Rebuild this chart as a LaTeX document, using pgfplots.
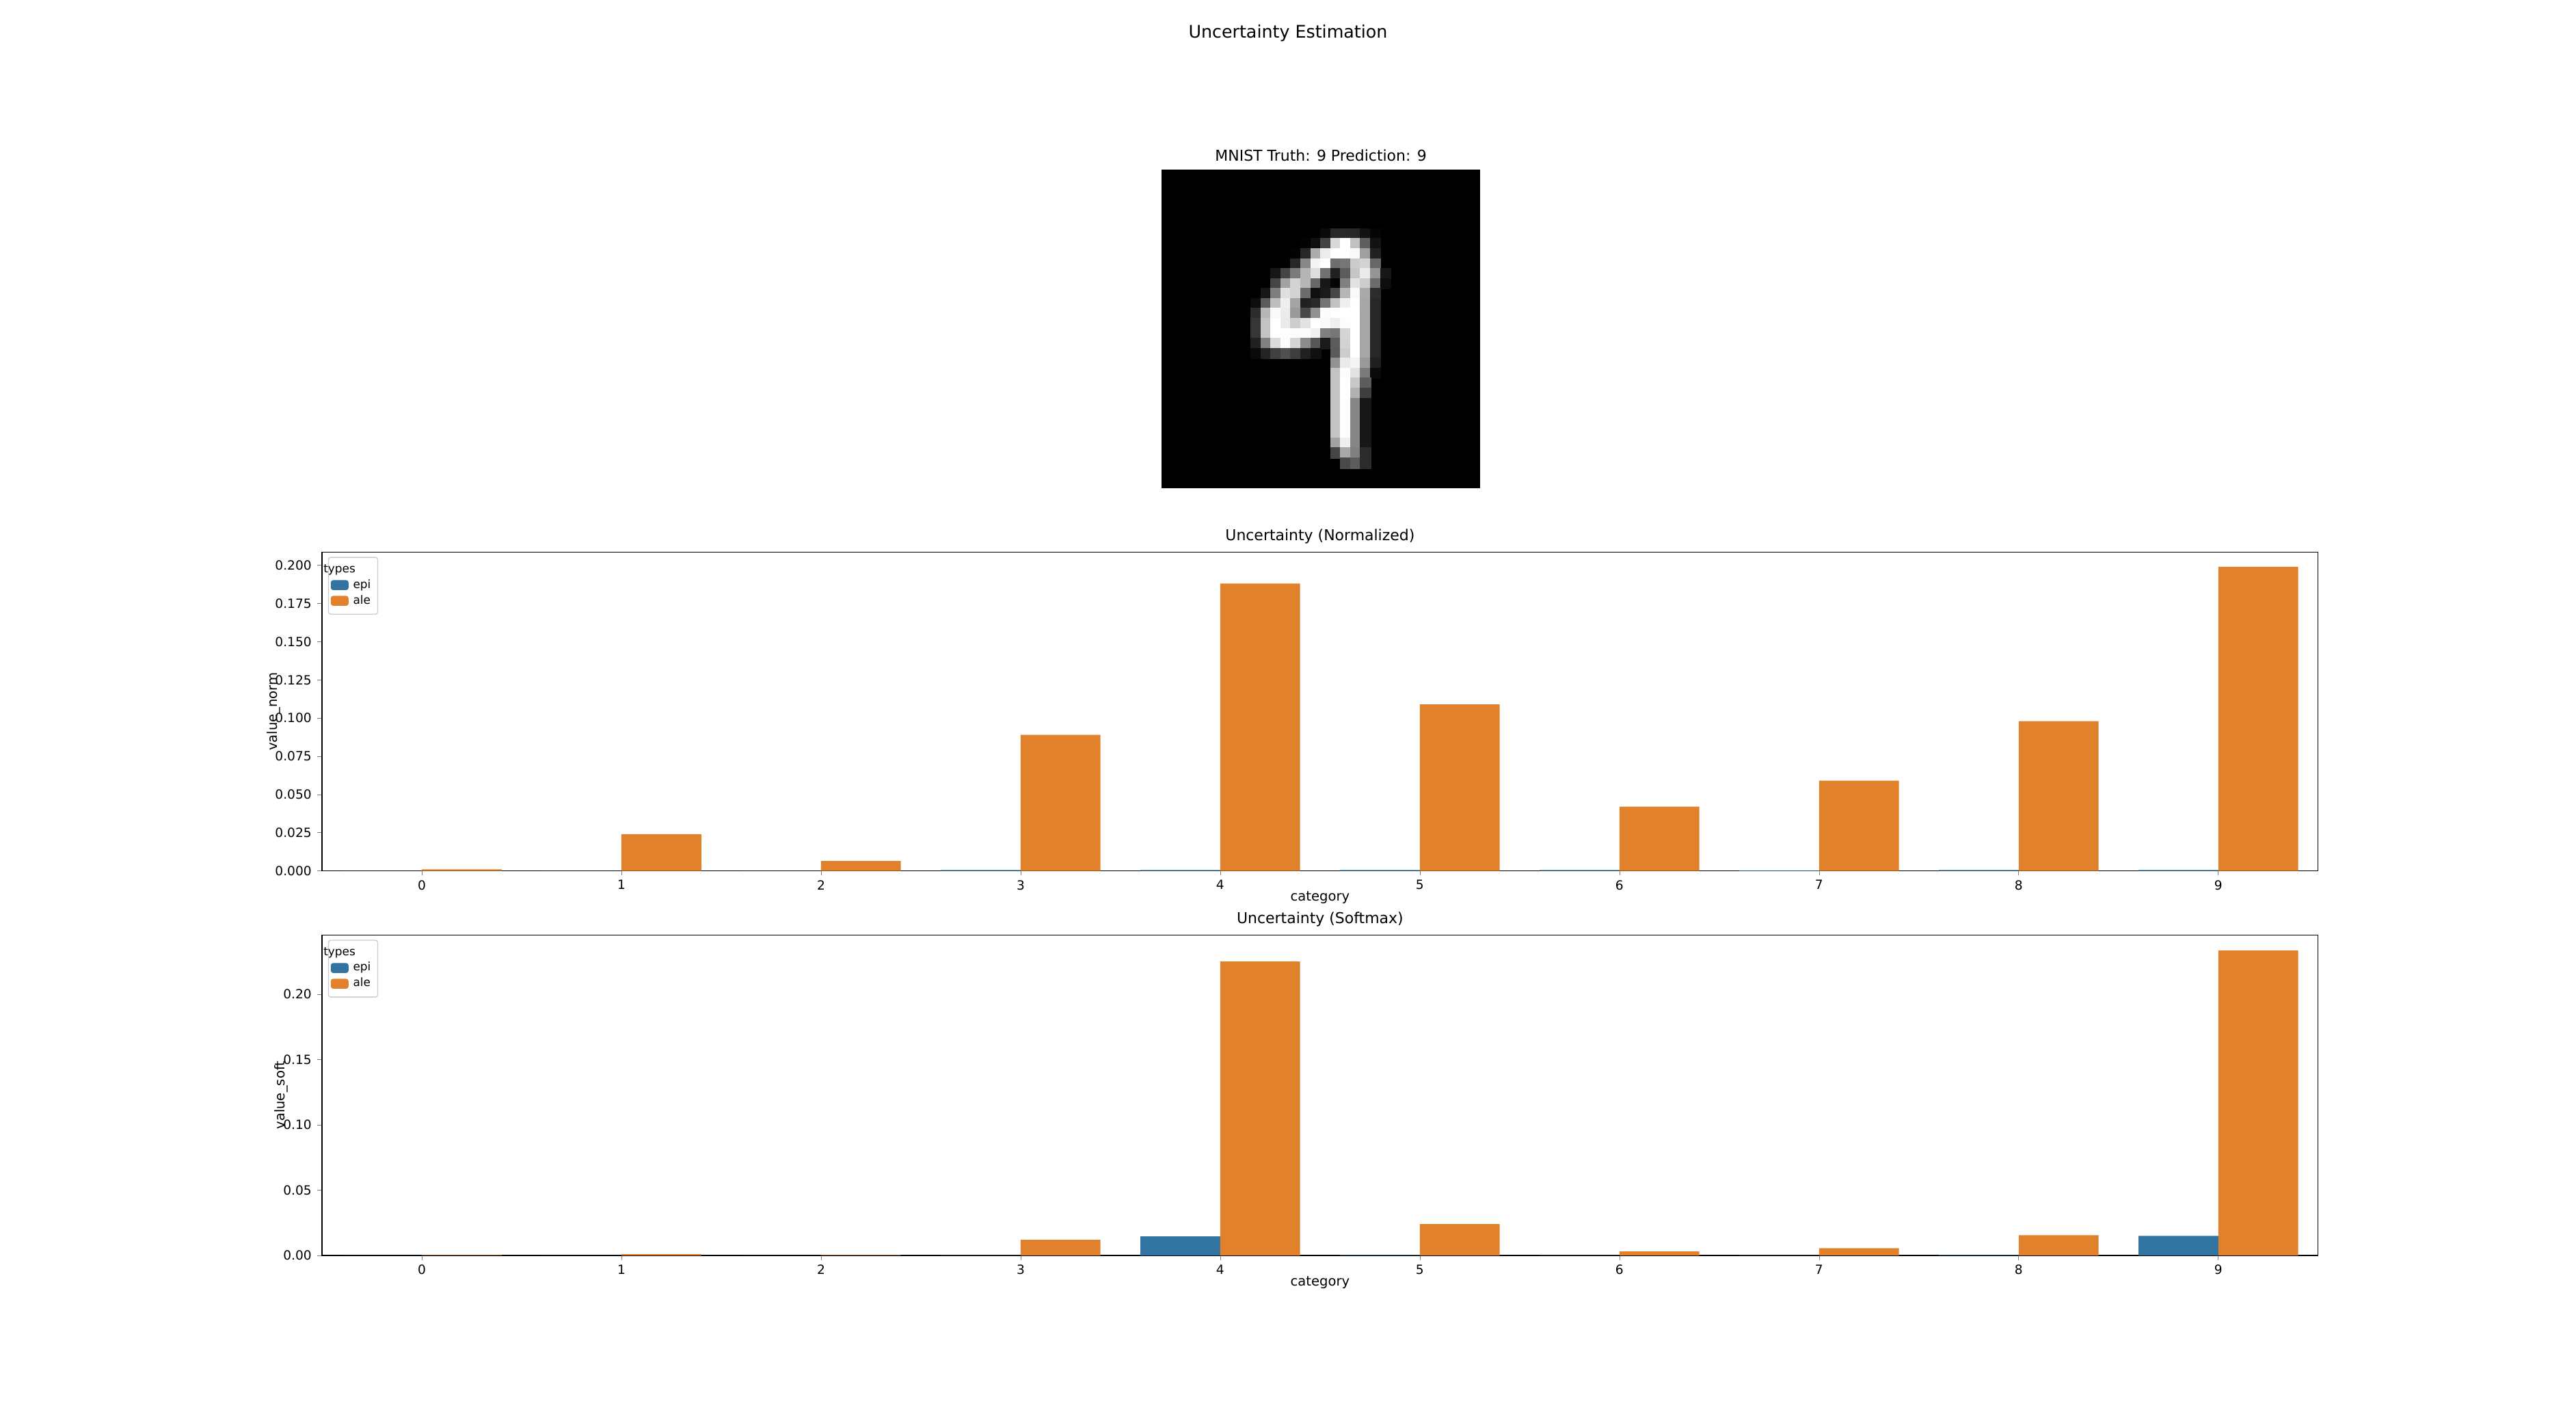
\documentclass[border=0pt]{standalone}
\usepackage{pgfplots}
\pgfplotsset{compat=1.18}
\usepackage{fontspec}
\setmainfont{DejaVu Sans}
\definecolor{sbblue}{HTML}{3274A1}
\definecolor{sborange}{HTML}{E1812C}
\pgfplotsset{
  baraxis/.style={scale only axis, width=30.375cm, anchor=south west,
    xmin=-0.5, xmax=9.5, ymin=0, xtick={0,...,9},
    ybar, bar width=0.4, bar shift=0,
    tick label style={font=\fontsize{5.5}{6.5}\selectfont},
    major tick length=2pt,
    xticklabel style={yshift=1.5pt}, yticklabel style={xshift=1pt},
    label style={font=\fontsize{5.8}{7}\selectfont},
    title style={font=\fontsize{6.5}{7.5}\selectfont, yshift=-6pt},
    /pgf/number format/assume math mode=true,
    xlabel={category}, xlabel style={yshift=6pt}, ylabel style={yshift=-9pt},
    tick align=outside, xtick pos=bottom, ytick pos=left,
    legend style={at={(0.003,0.985)}, anchor=north west, font=\fontsize{5}{6}\selectfont, draw=black!20, rounded corners=1pt, row sep=-2.5pt, inner sep=1pt},
    legend cell align=left,
    legend image code/.code={\fill[#1] (0cm,-0.07cm) rectangle (0.27cm,0.08cm);},
  }
}
\begin{document}
\begin{tikzpicture}
\path (0,0) rectangle (39.2,21.45);
\node[font=\fontsize{7.5}{9}\selectfont] at (19.6,20.95) {Uncertainty Estimation};

\begin{axis}[at={(17.675cm,14.025cm)}, anchor=south west, scale only axis,
  width=4.85cm, height=4.85cm, xmin=-0.5, xmax=31.5, ymin=-0.5, ymax=31.5,
  y dir=reverse, axis line style={draw=none}, ticks=none,
  axis background/.style={fill=black},
  title={MNIST Truth: 9 Prediction: 9}, title style={font=\fontsize{6.5}{7.5}\selectfont, yshift=-6pt},
  colormap={bw}{gray(0cm)=(0); gray(1cm)=(1)}, point meta min=0, point meta max=1]
\addplot[scatter, only marks, mark=square*, mark size=2.25pt, scatter/use mapped color={draw=mapped color, fill=mapped color}, point meta=explicit] table[meta=v] {
x y v
16 6 .04
17 6 .15
18 6 .16
19 6 .15
20 6 .07
21 6 .02
14 7 .01
15 7 .06
16 7 .26
17 7 .84
18 7 1
19 7 .75
20 7 .37
21 7 .07
13 8 .01
14 8 .15
15 8 .67
16 8 .92
17 8 .99
18 8 1
19 8 .97
20 8 .62
21 8 .13
13 9 .15
14 9 .53
15 9 .95
16 9 1
17 9 .43
18 9 .46
19 9 .79
20 9 .82
21 9 .40
11 10 .09
12 10 .27
13 10 .48
14 10 .70
15 10 .86
16 10 .44
17 10 .13
18 10 .36
19 10 .77
20 10 .91
21 10 .58
22 10 .09
11 11 .27
12 11 .63
13 11 .82
14 11 .71
15 11 .40
16 11 .09
17 11 .02
18 11 .50
19 11 .88
20 11 .80
21 11 .42
22 11 .05
10 12 .09
11 12 .49
12 12 .87
13 12 .82
14 12 .42
15 12 .06
16 12 .10
17 12 .27
18 12 .71
19 12 .97
20 12 .66
21 12 .17
9 13 .05
10 13 .35
11 13 .74
12 13 .93
13 13 .64
14 13 .13
15 13 .16
16 13 .45
17 13 .75
18 13 .93
19 13 .99
20 13 .65
21 13 .15
9 14 .17
10 14 .71
11 14 .97
12 14 .92
13 14 .60
14 14 .28
15 14 .56
16 14 .98
17 14 1
18 14 1
19 14 1
20 14 .65
21 14 .15
9 15 .21
10 15 .76
11 15 1
12 15 .91
13 15 .80
14 15 .88
15 15 1
16 15 .97
17 15 .93
18 15 .98
19 15 1
20 15 .65
21 15 .15
9 16 .21
10 16 .76
11 16 1
12 16 .99
13 16 .98
14 16 .98
15 16 .94
16 16 .50
17 16 .46
18 16 .83
19 16 1
20 16 .65
21 16 .15
9 17 .13
10 17 .50
11 17 .85
12 17 .98
13 17 .83
14 17 .54
15 17 .34
16 17 .10
17 17 .36
18 17 .82
19 17 1
20 17 .65
21 17 .15
9 18 .04
10 18 .14
11 18 .25
12 18 .31
13 18 .24
14 18 .13
15 18 .06
17 18 .35
18 18 .80
19 18 1
20 18 .65
21 18 .15
17 19 .57
18 19 .91
19 19 .95
20 19 .60
21 19 .12
17 20 .76
18 20 .98
19 20 .88
20 20 .48
21 20 .04
17 21 .76
18 21 1
19 21 .78
20 21 .36
17 22 .76
18 22 1
19 22 .69
20 22 .24
17 23 .76
18 23 .99
19 23 .52
20 23 .09
17 24 .76
18 24 .99
19 24 .52
20 24 .09
17 25 .76
18 25 .99
19 25 .52
20 25 .09
17 26 .76
18 26 .99
19 26 .52
20 26 .09
17 27 .63
18 27 .93
19 27 .52
20 27 .09
17 28 .27
18 28 .66
19 28 .50
20 28 .17
18 29 .29
19 29 .36
20 29 .17
};
\end{axis}

\begin{axis}[baraxis, at={(4.9cm,8.2cm)}, height=4.85cm, ymax=0.2086,
  ytick={0,0.025,...,0.2}, yticklabel style={/pgf/number format/.cd, fixed, fixed zerofill, precision=3},
  title={Uncertainty (Normalized)}, ylabel={value\_norm}]
\addlegendimage{empty legend}\addlegendentry{\hspace{-0.45cm}types}
\addplot[fill=sbblue, draw=none] coordinates {(-0.2,0) (0.8,0) (1.8,0) (2.8,0.0005) (3.8,0.0005) (4.8,0.0005) (5.8,0.0005) (6.8,0.0002) (7.8,0.0005) (8.8,0.0005)};
\addlegendentry{epi}
\addplot[fill=sborange, draw=none] coordinates {(0.2,0.001) (1.2,0.024) (2.2,0.0065) (3.2,0.089) (4.2,0.188) (5.2,0.109) (6.2,0.042) (7.2,0.059) (8.2,0.098) (9.2,0.199)};
\addlegendentry{ale}
\end{axis}

\begin{axis}[baraxis, at={(4.9cm,2.35cm)}, height=4.875cm, ymax=0.2453,
  ytick={0,0.05,...,0.2}, yticklabel style={/pgf/number format/.cd, fixed, fixed zerofill, precision=2},
  title={Uncertainty (Softmax)}, ylabel={value\_soft}]
\addlegendimage{empty legend}\addlegendentry{\hspace{-0.45cm}types}
\addplot[fill=sbblue, draw=none] coordinates {(-0.2,0) (0.8,0) (1.8,0) (2.8,0.0002) (3.8,0.0145) (4.8,0.0003) (5.8,0.0001) (6.8,0.0001) (7.8,0.0003) (8.8,0.015)};
\addlegendentry{epi}
\addplot[fill=sborange, draw=none] coordinates {(0.2,0.0003) (1.2,0.001) (2.2,0.0003) (3.2,0.012) (4.2,0.225) (5.2,0.024) (6.2,0.003) (7.2,0.0055) (8.2,0.0155) (9.2,0.2335)};
\addlegendentry{ale}
\end{axis}
\end{tikzpicture}
\end{document}
